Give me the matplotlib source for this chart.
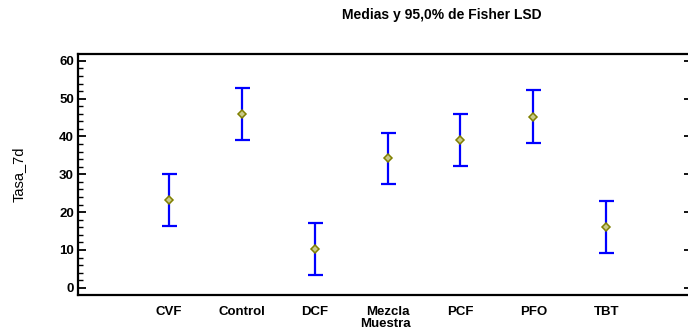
import numpy as np
import matplotlib.pyplot as plt
from matplotlib.ticker import MultipleLocator

# Medias por muestra con intervalos LSD de Fisher al 95%
muestras = ['CVF', 'Control', 'DCF', 'Mezcla', 'PCF', 'PFO', 'TBT']
medias = [23.3, 45.9, 10.2, 34.2, 39.1, 45.2, 16.1]
semi_lsd = [6.9, 6.9, 6.8, 6.8, 6.9, 7.0, 6.9]

plt.rcParams['font.family'] = ['Liberation Sans', 'DejaVu Sans']

fig = plt.figure(figsize=(6.88, 3.35), dpi=100)
ax = fig.add_axes([0.1134, 0.1194, 0.8926, 0.7194])

x = np.arange(len(muestras))
ax.errorbar(x, medias, yerr=semi_lsd, fmt='none', ecolor='#0000ff',
            elinewidth=1.6, capsize=5.4, capthick=1.6, zorder=2)
ax.plot(x, medias, linestyle='none', marker='D', markersize=4.0,
        markerfacecolor='#c9c98a', markeredgecolor='#808000',
        markeredgewidth=1.1, zorder=3)

ax.set_xlim(-1.25, 7.18)
ax.set_ylim(-1.9, 61.8)

ax.set_xticks(x)
ax.set_xticklabels(muestras, fontsize=9.5, fontweight='bold')
ax.tick_params(axis='x', length=0, pad=8)

ax.yaxis.set_major_locator(MultipleLocator(10))
ax.yaxis.set_minor_locator(MultipleLocator(2))
ax.tick_params(axis='y', which='major', direction='in', length=6, width=1.3,
               right=True, labelsize=9.5, pad=3)
ax.tick_params(axis='y', which='minor', direction='in', length=3.5, width=1.0,
               left=True, right=False)
for lab in ax.get_yticklabels():
    lab.set_fontweight('bold')

for side in ['left', 'bottom', 'top']:
    ax.spines[side].set_linewidth(1.6)
ax.spines['right'].set_visible(False)

ax.set_xlabel('Muestra', fontsize=9.5, fontweight='bold', labelpad=0)
ax.set_ylabel('Tasa_7d', fontsize=10.5)
ax.yaxis.set_label_coords(-0.085, 0.5)

fig.text(0.642, 0.955, 'Medias y 95,0% de Fisher LSD', ha='center', va='center',
         fontsize=10, fontweight='bold')

fig.savefig('out.png', dpi=100)
